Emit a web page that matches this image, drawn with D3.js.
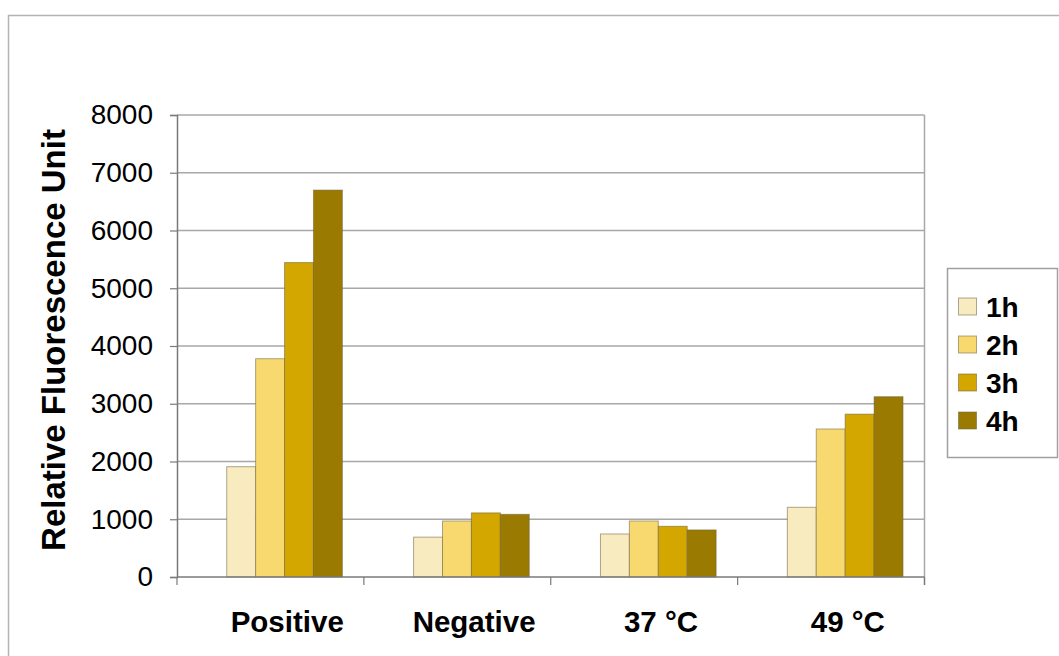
<!DOCTYPE html>
<html>
<head>
<meta charset="utf-8">
<script src="https://cdn.jsdelivr.net/npm/d3@7"></script>
<style>
  body { margin: 0; background: #ffffff; }
  text { font-family: "Liberation Sans", Arial, Helvetica, sans-serif; fill: #000; }
</style>
</head>
<body>
<svg id="chart" width="1059" height="656"></svg>
<script>
// Categories and one value array per time point
const categories = ["Positive", "Negative", "37 °C", "49 °C"];
const seriesNames = ["1h", "2h", "3h", "4h"];
const values1h = [1910, 690, 745, 1207];
const values2h = [3780, 970, 970, 2563];
const values3h = [5445, 1110, 878, 2820];
const values4h = [6700, 1085, 815, 3122];
const yTickValues = [0, 1000, 2000, 3000, 4000, 5000, 6000, 7000, 8000];
const seriesColors = ["#F8EBC0", "#F8D96F", "#D3A600", "#9A7A00"];

const seriesValues = [values1h, values2h, values3h, values4h];

const svg = d3.select("#chart");

// Outer chart frame
svg.append("rect")
  .attr("x", 8.5).attr("y", 15.5)
  .attr("width", 1200).attr("height", 800)
  .attr("fill", "none")
  .attr("stroke", "#b4b4b4")
  .attr("stroke-width", 1.5);

const plot = { left: 177, right: 924.5, top: 115, bottom: 577 };

const x = d3.scaleBand()
  .domain(categories)
  .range([plot.left, plot.right])
  .paddingInner(0).paddingOuter(0);

const bw = x.bandwidth();
const xs = d3.scaleBand()
  .domain(seriesNames)
  .range([bw * 0.266, bw * 0.885])
  .padding(0);

const y = d3.scaleLinear()
  .domain([0, 8000])
  .range([plot.bottom, plot.top]);

// Horizontal gridlines
svg.append("g")
  .selectAll("line")
  .data(yTickValues.filter(v => v > 0))
  .join("line")
  .attr("x1", plot.left).attr("x2", plot.right)
  .attr("y1", d => y(d)).attr("y2", d => y(d))
  .attr("stroke", "#a8a8a8")
  .attr("stroke-width", 1.5);

// Right border of the plot area
svg.append("line")
  .attr("x1", plot.right).attr("x2", plot.right)
  .attr("y1", plot.top).attr("y2", plot.bottom + 8)
  .attr("stroke", "#a8a8a8")
  .attr("stroke-width", 1.5);

// Bars
const rows = categories.map((c, i) => ({
  category: c,
  bars: seriesNames.map((s, j) => ({ series: s, idx: j, value: seriesValues[j][i] }))
}));

const groups = svg.append("g")
  .selectAll("g")
  .data(rows)
  .join("g")
  .attr("transform", d => `translate(${x(d.category)},0)`);

groups.selectAll("rect")
  .data(d => d.bars)
  .join("rect")
  .attr("x", d => xs(d.series))
  .attr("width", xs.bandwidth())
  .attr("y", d => y(d.value))
  .attr("height", d => y(0) - y(d.value))
  .attr("fill", d => seriesColors[d.idx])
  .attr("stroke", "#6e6240")
  .attr("stroke-opacity", 0.55)
  .attr("stroke-width", 1);

// Y axis
const yAxis = svg.append("g")
  .attr("transform", `translate(${plot.left},0)`)
  .call(d3.axisLeft(y).tickValues(yTickValues).tickSize(7).tickPadding(17).tickFormat(d3.format("d")));
yAxis.select(".domain").attr("stroke", "#7a7a7a").attr("stroke-width", 1.5);
yAxis.selectAll(".tick line").attr("stroke", "#7a7a7a").attr("stroke-width", 1.2);
yAxis.selectAll(".tick text")
  .attr("font-size", 28)
  .attr("font-family", "'Liberation Sans', Arial, sans-serif")
  .attr("fill", "#000");

// X axis baseline with category boundary ticks
svg.append("line")
  .attr("x1", plot.left).attr("x2", plot.right)
  .attr("y1", plot.bottom).attr("y2", plot.bottom)
  .attr("stroke", "#7a7a7a").attr("stroke-width", 1.5);

const boundaries = categories.map(c => x(c)).concat([plot.right]);
svg.append("g")
  .selectAll("line")
  .data(boundaries)
  .join("line")
  .attr("x1", d => d).attr("x2", d => d)
  .attr("y1", plot.bottom).attr("y2", plot.bottom + 8)
  .attr("stroke", "#7a7a7a").attr("stroke-width", 1.2);

// Category labels
svg.append("g")
  .selectAll("text")
  .data(categories)
  .join("text")
  .attr("x", d => x(d) + bw * 0.59)
  .attr("y", 632)
  .attr("text-anchor", "middle")
  .attr("font-size", 29.5)
  .attr("font-weight", "bold")
  .text(d => d);

// Y axis title
svg.append("text")
  .attr("transform", "translate(65,340) rotate(-90)")
  .attr("text-anchor", "middle")
  .attr("font-size", 33)
  .attr("font-weight", "bold")
  .text("Relative Fluorescence Unit");

// Legend
const legend = svg.append("g");
legend.append("rect")
  .attr("x", 947.5).attr("y", 268.5)
  .attr("width", 110).attr("height", 189)
  .attr("fill", "#fff")
  .attr("stroke", "#a0a0a0")
  .attr("stroke-width", 1.5);

const legendRows = legend.selectAll("g.item")
  .data(seriesNames)
  .join("g")
  .attr("class", "item")
  .attr("transform", (d, i) => `translate(0,${306.5 + i * 38})`);

legendRows.append("rect")
  .attr("x", 958.5).attr("y", -8.5)
  .attr("width", 18).attr("height", 17)
  .attr("fill", (d, i) => seriesColors[i])
  .attr("stroke", "#6e6240")
  .attr("stroke-opacity", 0.55)
  .attr("stroke-width", 1);

legendRows.append("text")
  .attr("x", 986)
  .attr("y", 10)
  .attr("font-size", 28)
  .attr("font-weight", "bold")
  .text(d => d);
</script>
</body>
</html>
